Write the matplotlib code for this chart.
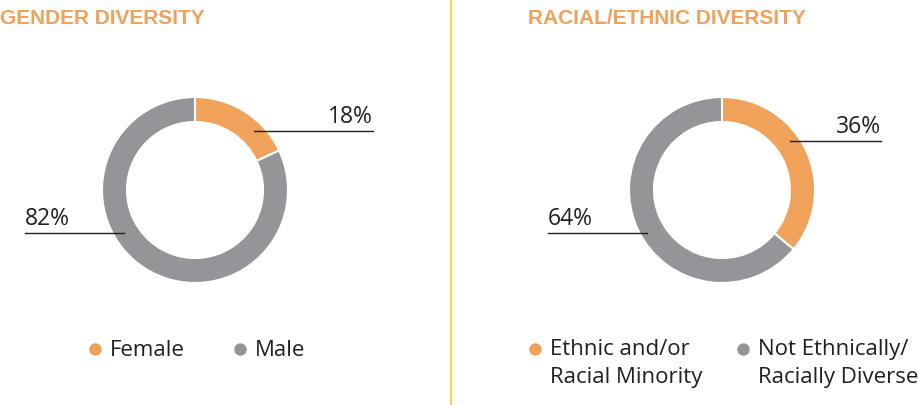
import matplotlib.pyplot as plt
from matplotlib.lines import Line2D

# data
gender_labels = ["Female", "Male"]
gender_values = [18, 82]
race_labels = ["Ethnic and/or\nRacial Minority", "Not Ethnically/\nRacially Diverse"]
race_values = [36, 64]
titles = ["GENDER DIVERSITY", "RACIAL/ETHNIC DIVERSITY"]

ORANGE = "#F0A15A"
GRAY = "#939598"
DARK = "#231F20"
YELLOW = "#F6D24A"
colors = [ORANGE, GRAY]
body_font = ["Open Sans", "DejaVu Sans"]

W, H = 918, 405
fig = plt.figure(figsize=(W / 100, H / 100), dpi=100)
ax = fig.add_axes([0, 0, 1, 1])

R = 93
ring = 25


def donut(cx, cy, values):
    ax.pie(values, colors=colors, startangle=90, counterclock=False,
           center=(cx, cy), radius=R,
           wedgeprops=dict(width=ring, edgecolor="white", linewidth=1.5))


def leader(text, x0, x1, y, align):
    ax.add_line(Line2D([x0, x1], [y, y], color=DARK, lw=1.0))
    tx = x1 if align == "right" else x0
    ax.text(tx, y + 8, text, ha=align, va="baseline", fontsize=16.5,
            color=DARK, family=body_font)


# left panel - gender
donut(195, 215, gender_values)
leader(f"{gender_values[0]}%", 254, 373, 274, "right")
leader(f"{gender_values[1]}%", 25, 124, 172, "left")

# right panel - race
donut(722, 215, race_values)
leader(f"{race_values[0]}%", 790, 881, 264, "right")
leader(f"{race_values[1]}%", 548, 647, 172, "left")

# titles
ax.text(0, 381, titles[0], ha="left", va="baseline", fontsize=15,
        fontweight="bold", color=ORANGE, family="Liberation Sans")
ax.text(528, 381, titles[1], ha="left", va="baseline", fontsize=15,
        fontweight="bold", color=ORANGE, family="Liberation Sans")

# legends
leg_left_x = [95, 240]
for x, lab, c in zip(leg_left_x, gender_labels, colors):
    ax.scatter([x], [56], s=80, color=c, linewidths=0)
    ax.text(x + 15, 55, lab, ha="left", va="center", fontsize=16,
            color=DARK, family=body_font)

leg_right_x = [535, 743]
for x, lab, c in zip(leg_right_x, race_labels, colors):
    ax.scatter([x], [56], s=80, color=c, linewidths=0)
    ax.text(x + 15, 66, lab, ha="left", va="top", fontsize=16,
            color=DARK, family=body_font, linespacing=1.45)

# divider
ax.add_line(Line2D([451, 451], [0, H], color=YELLOW, lw=1.5))

ax.set_xlim(0, W)
ax.set_ylim(0, H)
ax.set_aspect("auto")
ax.axis("off")

fig.savefig("out.png", dpi=100)
